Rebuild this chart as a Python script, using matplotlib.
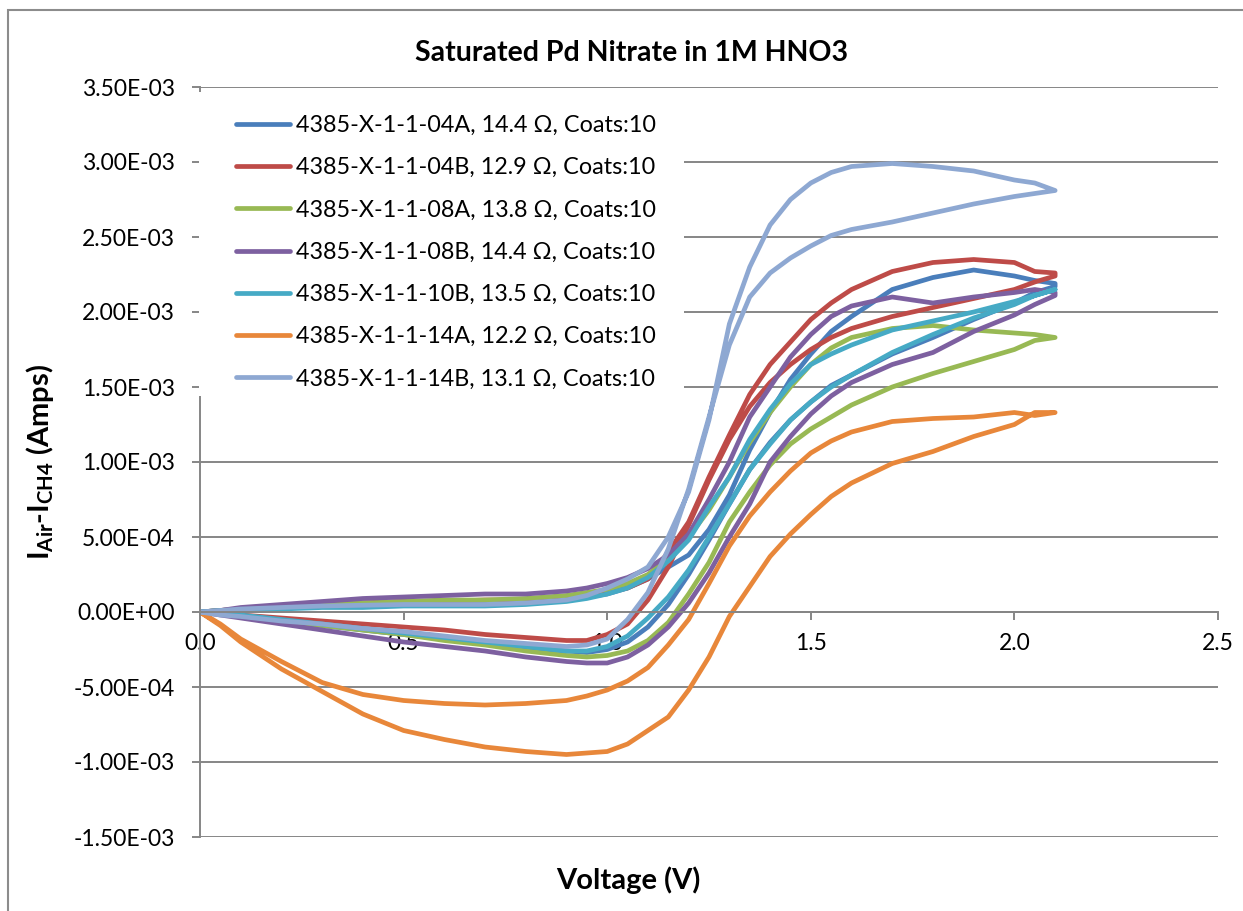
import numpy as np
import matplotlib
matplotlib.use("Agg")
import matplotlib.pyplot as plt
from matplotlib.patches import Rectangle
from matplotlib.ticker import FuncFormatter, MultipleLocator

plt.rcParams['font.family'] = ['Lato', 'DejaVu Sans']
plt.rcParams['mathtext.fontset'] = 'custom'
plt.rcParams['mathtext.rm'] = 'Lato'
plt.rcParams['mathtext.bf'] = 'Lato:bold'

# ---------------- data (current in mA; voltage in V) ----------------
voltage = [0.0, 0.05, 0.1, 0.2, 0.3, 0.4, 0.5, 0.6, 0.7, 0.8, 0.9, 0.95, 1.0, 1.05, 1.1,
           1.15, 1.2, 1.25, 1.3, 1.35, 1.4, 1.45, 1.5, 1.55, 1.6, 1.7, 1.8, 1.9, 2.0, 2.05, 2.1]

labels = [
    "4385-X-1-1-04A, 14.4 \u03a9, Coats:10",
    "4385-X-1-1-04B, 12.9 \u03a9, Coats:10",
    "4385-X-1-1-08A, 13.8 \u03a9, Coats:10",
    "4385-X-1-1-08B, 14.4 \u03a9, Coats:10",
    "4385-X-1-1-10B, 13.5 \u03a9, Coats:10",
    "4385-X-1-1-14A, 12.2 \u03a9, Coats:10",
    "4385-X-1-1-14B, 13.1 \u03a9, Coats:10",
]
colors = ["#4A7EBB", "#BE4B48", "#98B954", "#7D60A0", "#46AAC5", "#E8873A", "#8EA8D2"]

# 04A
s04A_fwd = [0, 0.01, 0.02, 0.03, 0.05, 0.05, 0.06, 0.06, 0.07, 0.07, 0.08, 0.10, 0.12, 0.16, 0.22,
            0.30, 0.38, 0.55, 0.78, 1.08, 1.33, 1.55, 1.72, 1.87, 1.97, 2.15, 2.23, 2.28, 2.24, 2.21, 2.19]
s04A_rev = [0, -0.01, -0.03, -0.06, -0.09, -0.12, -0.15, -0.18, -0.21, -0.24, -0.26, -0.27, -0.25, -0.20, -0.10,
            0.05, 0.25, 0.48, 0.72, 0.95, 1.13, 1.28, 1.40, 1.51, 1.58, 1.72, 1.83, 1.95, 2.06, 2.13, 2.17]
# 04B
s04B_fwd = [0, 0.01, 0.02, 0.04, 0.05, 0.06, 0.07, 0.07, 0.08, 0.08, 0.10, 0.11, 0.13, 0.16, 0.22,
            0.40, 0.60, 0.90, 1.18, 1.45, 1.65, 1.80, 1.95, 2.06, 2.15, 2.27, 2.33, 2.35, 2.33, 2.27, 2.26]
s04B_rev = [0, -0.01, -0.02, -0.04, -0.06, -0.08, -0.10, -0.12, -0.15, -0.17, -0.19, -0.19, -0.15, -0.08, 0.08,
            0.30, 0.58, 0.88, 1.15, 1.37, 1.53, 1.65, 1.75, 1.83, 1.89, 1.97, 2.03, 2.09, 2.15, 2.20, 2.24]
# 08A
s08A_fwd = [0, 0.01, 0.02, 0.04, 0.05, 0.06, 0.07, 0.08, 0.08, 0.09, 0.11, 0.13, 0.15, 0.19, 0.25,
            0.36, 0.50, 0.68, 0.90, 1.13, 1.33, 1.50, 1.65, 1.76, 1.83, 1.89, 1.91, 1.88, 1.86, 1.85, 1.83]
s08A_rev = [0, -0.01, -0.03, -0.06, -0.09, -0.12, -0.15, -0.19, -0.22, -0.26, -0.29, -0.30, -0.29, -0.26, -0.19,
            -0.07, 0.12, 0.33, 0.60, 0.80, 0.98, 1.12, 1.22, 1.30, 1.38, 1.50, 1.59, 1.67, 1.75, 1.81, 1.83]
# 08B
s08B_fwd = [0, 0.01, 0.03, 0.05, 0.07, 0.09, 0.10, 0.11, 0.12, 0.12, 0.14, 0.16, 0.19, 0.23, 0.29,
            0.38, 0.52, 0.75, 1.00, 1.30, 1.50, 1.70, 1.85, 1.97, 2.04, 2.10, 2.06, 2.10, 2.13, 2.15, 2.13]
s08B_rev = [0, -0.02, -0.04, -0.08, -0.12, -0.16, -0.20, -0.23, -0.26, -0.30, -0.33, -0.34, -0.34, -0.30, -0.22,
            -0.10, 0.06, 0.26, 0.50, 0.72, 1.00, 1.17, 1.32, 1.44, 1.53, 1.65, 1.73, 1.87, 1.98, 2.05, 2.11]
# 10B
s10B_fwd = [0, 0.01, 0.01, 0.02, 0.03, 0.03, 0.04, 0.04, 0.04, 0.05, 0.07, 0.09, 0.12, 0.16, 0.23,
            0.34, 0.48, 0.70, 0.90, 1.15, 1.35, 1.52, 1.65, 1.72, 1.78, 1.88, 1.94, 2.00, 2.07, 2.11, 2.15]
s10B_rev = [0, -0.01, -0.02, -0.05, -0.08, -0.11, -0.14, -0.17, -0.20, -0.23, -0.26, -0.26, -0.23, -0.16, -0.04,
            0.10, 0.28, 0.50, 0.72, 0.95, 1.12, 1.28, 1.40, 1.50, 1.58, 1.73, 1.85, 1.96, 2.05, 2.11, 2.15]
# 14A
s14A_fwd = [0, -0.08, -0.18, -0.33, -0.47, -0.55, -0.59, -0.61, -0.62, -0.61, -0.59, -0.56, -0.52, -0.46, -0.37,
            -0.22, -0.05, 0.19, 0.44, 0.64, 0.80, 0.94, 1.06, 1.14, 1.20, 1.27, 1.29, 1.30, 1.33, 1.31, 1.33]
s14A_rev = [0, -0.09, -0.20, -0.38, -0.53, -0.68, -0.79, -0.85, -0.90, -0.93, -0.95, -0.94, -0.93, -0.88, -0.79,
            -0.70, -0.52, -0.30, -0.03, 0.17, 0.37, 0.52, 0.65, 0.77, 0.86, 0.99, 1.07, 1.17, 1.25, 1.33, 1.33]
# 14B
s14B_fwd = [0, 0.01, 0.02, 0.03, 0.04, 0.045, 0.05, 0.05, 0.05, 0.06, 0.08, 0.11, 0.16, 0.22, 0.30,
            0.50, 0.80, 1.28, 1.92, 2.30, 2.58, 2.75, 2.86, 2.93, 2.97, 2.99, 2.97, 2.94, 2.88, 2.86, 2.81]
s14B_rev = [0, -0.02, -0.03, -0.06, -0.08, -0.11, -0.13, -0.16, -0.19, -0.21, -0.23, -0.22, -0.18, -0.05, 0.13,
            0.42, 0.82, 1.30, 1.78, 2.10, 2.26, 2.36, 2.44, 2.51, 2.55, 2.60, 2.66, 2.72, 2.77, 2.79, 2.81]

series = [(s04A_fwd, s04A_rev), (s04B_fwd, s04B_rev), (s08A_fwd, s08A_rev), (s08B_fwd, s08B_rev),
          (s10B_fwd, s10B_rev), (s14A_fwd, s14A_rev), (s14B_fwd, s14B_rev)]

# ---------------- figure ----------------
W, H = 1243, 911
fig = plt.figure(figsize=(W / 100, H / 100), dpi=100)
fig.patch.set_facecolor("white")

def fx(px):
    return px / W

def fy(py):
    return 1 - py / H

ax = fig.add_axes([fx(200), fy(837), fx(1218) - fx(200), fy(87) - fy(837)])

v = np.array(voltage)
for (fwd, rev), lab, col in zip(series, labels, colors):
    x = np.concatenate([v, v[::-1]])
    y = np.concatenate([np.array(fwd), np.array(rev)[::-1]]) * 1e-3
    ax.plot(x, y, color=col, lw=3.4, label=lab, solid_joinstyle='round', solid_capstyle='round', zorder=2)

grid_col = "#868686"
ax.set_xlim(0, 2.5)
ax.set_ylim(-1.5e-3, 3.5e-3)
ax.xaxis.set_major_locator(MultipleLocator(0.5))
ax.yaxis.set_major_locator(MultipleLocator(0.5e-3))
ax.xaxis.set_major_formatter(FuncFormatter(lambda val, p: f"{val:.1f}"))
ax.yaxis.set_major_formatter(FuncFormatter(lambda val, p: f"{val:.2E}"))

ax.set_axisbelow(True)
ax.grid(axis='y', color=grid_col, lw=1.4)
for s in ["top", "right"]:
    ax.spines[s].set_visible(False)
ax.spines["bottom"].set_position(("data", 0))
ax.spines["left"].set_color(grid_col)
ax.spines["bottom"].set_color(grid_col)
ax.spines["left"].set_linewidth(1.4)
ax.spines["bottom"].set_linewidth(1.4)
ax.tick_params(axis='both', colors=grid_col, labelcolor='black', length=6, width=1.4, direction='out',
               labelsize=16.5)
ax.tick_params(axis='y', pad=12)
ax.tick_params(axis='x', pad=9)

# white box behind legend (covers gridlines)
ax.add_patch(Rectangle((fx(199), fy(396)), fx(684) - fx(199), fy(92) - fy(396), transform=fig.transFigure,
                       facecolor='white', edgecolor='none', zorder=3, clip_on=False))

leg = ax.legend(loc='upper left', bbox_to_anchor=(fx(236), fy(115)), bbox_transform=fig.transFigure,
                frameon=False, fontsize=16.8, handlelength=2.3, handletextpad=0.26, labelspacing=0.91,
                borderaxespad=0, borderpad=0)
leg.set_zorder(4)

fig.text(fx(632), fy(53), "Saturated Pd Nitrate in 1M HNO3", ha='center', va='center',
         fontsize=20.5, fontweight='bold')
fig.text(fx(628), fy(880), "Voltage (V)", ha='center', va='center', fontsize=21, fontweight='bold')
fig.text(fx(40), fy(462), r"$\mathbf{I_{Air}}$-$\mathbf{I_{CH4}}$ (Amps)", ha='center', va='center',
         rotation=90, fontsize=21, fontweight='bold')

# outer chart border
fig.patches.append(Rectangle((fx(8), fy(1000)), fx(1300), fy(10) - fy(1000), transform=fig.transFigure,
                             facecolor='none', edgecolor='#8C8C8C', lw=1.5, figure=fig))

fig.savefig("out.png", dpi=100)
